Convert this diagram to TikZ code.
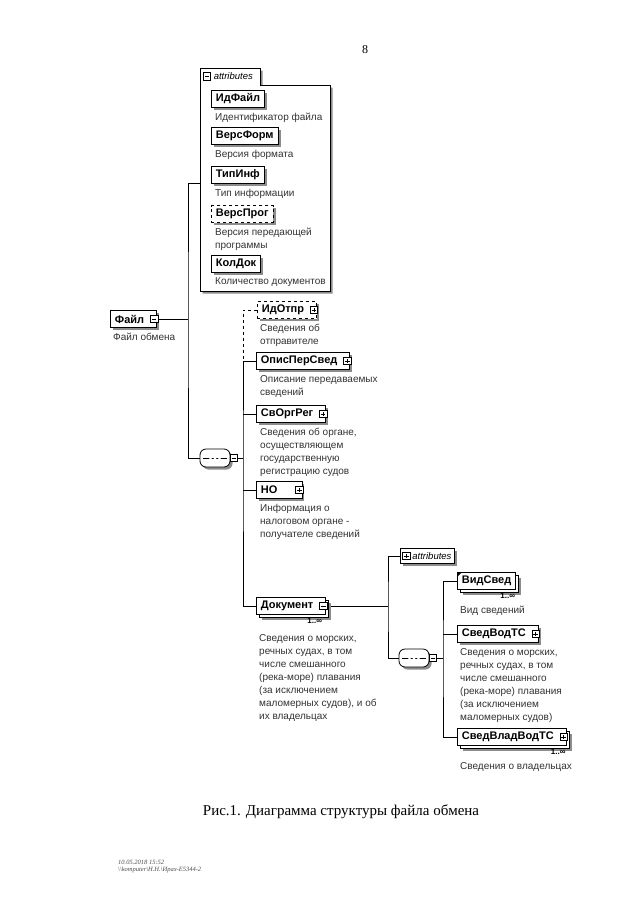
\documentclass[tikz,border=0pt]{standalone}
\usepackage{fontspec}
\setmainfont{Liberation Serif}
\setsansfont{Liberation Sans}
\usetikzlibrary{positioning, shadows, backgrounds}

\begin{document}
\begin{tikzpicture}[
    x=1pt, y=-1pt,
    line/.style={line width=0.8pt},
    elem/.style={rectangle, draw, fill=white, line width=0.8pt, font=\sffamily\bfseries\fontsize{11}{13}\selectfont, inner xsep=4.5pt, inner ysep=0pt, minimum height=17pt, anchor=west},
    single/.style={elem, drop shadow={shadow xshift=2.5pt, shadow yshift=-2.5pt, fill=black!45, opacity=1}},
    optional/.style={single, dashed},
    multi/.style={elem, general shadow={shadow xshift=5.5pt, shadow yshift=-5.5pt, fill=black!45}, general shadow={shadow xshift=3pt, shadow yshift=-3pt, draw=black, fill=white, line width=0.8pt}},
    withicon/.style={execute at end node={\hspace*{8pt}}},
    desc/.style={font=\sffamily\fontsize{10}{13}\selectfont, text=black!80, align=left, inner sep=0pt},
    card/.style={font=\sffamily\bfseries\fontsize{8}{9}\selectfont, inner sep=0pt},
    tabtext/.style={font=\sffamily\itshape\fontsize{9.5}{11}\selectfont, inner sep=0pt},
    footer/.style={font=\itshape\fontsize{6.5}{8}\selectfont, text=black!70, inner sep=0pt, anchor=west},
    minusicon/.style={rectangle, draw, fill=white, line width=0.6pt, minimum size=7.5pt, inner sep=0pt,
        path picture={\draw[line width=0.6pt] ([xshift=1.5pt]path picture bounding box.west) -- ([xshift=-1.5pt]path picture bounding box.east);}},
    plusicon/.style={rectangle, draw, fill=white, line width=0.6pt, minimum size=7.5pt, inner sep=0pt,
        path picture={\draw[line width=0.6pt] ([xshift=1.5pt]path picture bounding box.west) -- ([xshift=-1.5pt]path picture bounding box.east);
            \draw[line width=0.6pt] ([yshift=-1.5pt]path picture bounding box.north) -- ([yshift=1.5pt]path picture bounding box.south);}},
    seqbox/.style={rectangle, rounded corners=6pt, draw, fill=white, line width=0.8pt, minimum width=30pt, minimum height=18pt,
        drop shadow={shadow xshift=2.5pt, shadow yshift=-2.5pt, fill=black!45, opacity=1},
        path picture={\draw[line width=1pt] ([xshift=3pt]path picture bounding box.west) -- ([xshift=-3pt]path picture bounding box.east);
            \foreach \k in {-4.5,0,4.5} \fill ([xshift=\k pt]path picture bounding box.center) circle (1.7pt);}}
]
\begin{scope}[on background layer]
\path[use as bounding box, fill=white] (0,0) rectangle (640,905);
\end{scope}

\node[font=\fontsize{12}{14}\selectfont, inner sep=0pt] (pagenum) at (365,50) {8};

% attributes of Файл
\draw[line, fill=white, drop shadow={shadow xshift=2.5pt, shadow yshift=-2.5pt, fill=black!45, opacity=1}]
    (200,68) -- (260,68) -- (260,85) -- (330,85) -- (330,291) -- (200,291) -- cycle;
\node[minusicon] (attr1-i) at (207,76.5) {};
\node[tabtext, right=2.5pt of attr1-i] (attr1) {attributes};
\coordinate (attr1in) at (200,183);

\node[single] (idfajl) at (211,99) {ИдФайл};
\node[desc, below=5pt of idfajl.south west, anchor=north west, xshift=4pt] (idfajl-d) {Идентификатор файла};
\node[single] (versform) at (211,136) {ВерсФорм};
\node[desc, below=5pt of versform.south west, anchor=north west, xshift=4pt] (versform-d) {Версия формата};
\node[single] (tipinf) at (211,175) {ТипИнф};
\node[desc, below=5pt of tipinf.south west, anchor=north west, xshift=4pt] (tipinf-d) {Тип информации};
\node[optional] (versprog) at (211,214) {ВерсПрог};
\node[desc, below=5pt of versprog.south west, anchor=north west, xshift=4pt] (versprog-d) {Версия передающей\\программы};
\node[single] (koldok) at (211,264) {КолДок};
\node[desc, below=5pt of koldok.south west, anchor=north west, xshift=4pt] (koldok-d) {Количество документов};

% root element
\node[single, withicon] (fajl) at (110,319) {Файл};
\node[desc, below=5pt of fajl.south west, anchor=north west, xshift=3pt] (fajl-d) {Файл обмена};
\coordinate (j1) at (188,319);

% sequence of Файл
\node[seqbox] (seq1) at (215,458) {};
\node[minusicon, right=-0.5pt of seq1] (seq1-i) {};
\coordinate (j2) at (243,458);

\node[optional, withicon] (idotpr) at (257,310) {ИдОтпр};
\node[desc, below=5pt of idotpr.south west, anchor=north west, xshift=3pt] (idotpr-d) {Сведения об\\отправителе};
\node[single, withicon] (opis) at (256,361) {ОписПерСвед};
\node[desc, below=5pt of opis.south west, anchor=north west, xshift=4pt] (opis-d) {Описание передаваемых\\сведений};
\node[single, withicon] (svorg) at (256,414) {СвОргРег};
\node[desc, below=5pt of svorg.south west, anchor=north west, xshift=4pt] (svorg-d) {Сведения об органе,\\осуществляющем\\государственную\\регистрацию судов};
\node[single, withicon] (no) at (256,490) {НО\hspace*{12pt}};
\node[desc, below=5pt of no.south west, anchor=north west, xshift=4pt] (no-d) {Информация о\\налоговом органе -\\получателе сведений};
\node[multi, withicon] (dok) at (256,606) {Документ};
\node[card, below=2.5pt of dok.south east, anchor=north east, xshift=-4pt] (dok-c) {1..∞};
\node[desc, below=19pt of dok.south west, anchor=north west, xshift=3pt] (dok-d) {Сведения о морских,\\речных судах, в том\\числе смешанного\\(река-море) плавания\\(за исключением\\маломерных судов), и об\\их владельцах};
\coordinate (j3) at (388,606);

% content of Документ
\node[single, font=\sffamily\itshape\fontsize{9.5}{11}\selectfont, minimum height=15pt, inner xsep=3pt] (attr2) at (400,556) {\hspace*{9pt}attributes};
\node[plusicon] (attr2-i) at ([xshift=6.5pt]attr2.west) {};
\node[seqbox] (seq2) at (414,658) {};
\node[minusicon, right=-0.5pt of seq2] (seq2-i) {};
\coordinate (j4) at (443,658);

\node[multi] (vidsved) at (457,581) {ВидСвед};
\fill (vidsved.north west) -- ++(5,0) -- ++(-5,5) -- cycle;
\node[card, below=2.5pt of vidsved.south east, anchor=north east, xshift=-1pt] (vidsved-c) {1..∞};
\node[desc, below=16pt of vidsved.south west, anchor=north west, xshift=3pt] (vidsved-d) {Вид сведений};
\node[single, withicon] (svedvod) at (457,634) {СведВодТС};
\node[desc, below=5pt of svedvod.south west, anchor=north west, xshift=3pt] (svedvod-d) {Сведения о морских,\\речных судах, в том\\числе смешанного\\(река-море) плавания\\(за исключением\\маломерных судов)};
\node[multi, withicon] (svedvlad) at (457,737) {СведВладВодТС};
\node[card, below=2.5pt of svedvlad.south east, anchor=north east, xshift=-1pt] (svedvlad-c) {1..∞};
\node[desc, below=16pt of svedvlad.south west, anchor=north west, xshift=3pt] (svedvlad-d) {Сведения о владельцах};

% plus / minus boxes
\foreach \n/\s in {fajl/minusicon, idotpr/plusicon, opis/plusicon, svorg/plusicon, no/plusicon, dok/minusicon, svedvod/plusicon, svedvlad/plusicon}
    \node[\s] (\n-i) at ([xshift=-3pt]\n.east) {};

% connectors
\begin{scope}[on background layer]
\draw[line] (fajl-i.east) -- (j1);
\draw[line] (attr1in) -| (j1) |- (seq1.west);
\draw[line] (seq1-i.east) -- (j2);
\draw[line, dashed] (idotpr.west) -| (j2 |- opis.west);
\draw[line] (opis.west) -| (j2) |- (dok.west);
\draw[line] (j2 |- svorg.west) -- (svorg.west);
\draw[line] (j2 |- no.west) -- (no.west);
\draw[line] (dok-i.east) -- (j3);
\draw[line] (attr2.west) -| (j3) |- (seq2.west);
\draw[line] (seq2-i.east) -- (j4);
\draw[line] (vidsved.west) -| (j4) |- (svedvlad.west);
\draw[line] (j4 |- svedvod.west) -- (svedvod.west);
\end{scope}

% caption and stamp
\node[font=\fontsize{15}{18}\selectfont, inner sep=0pt] (caption) at (341,812) {Рис.1. Диаграмма структуры файла обмена};
\node[footer] (stamp) at (118,862) {10.05.2018 15:52};
\node[footer, below=2pt of stamp.south west, anchor=north west] (path) {\textbackslash\textbackslash komputer\textbackslash Н.Н.\textbackslash Ирах-Е5344-2};

\end{tikzpicture}
\end{document}
